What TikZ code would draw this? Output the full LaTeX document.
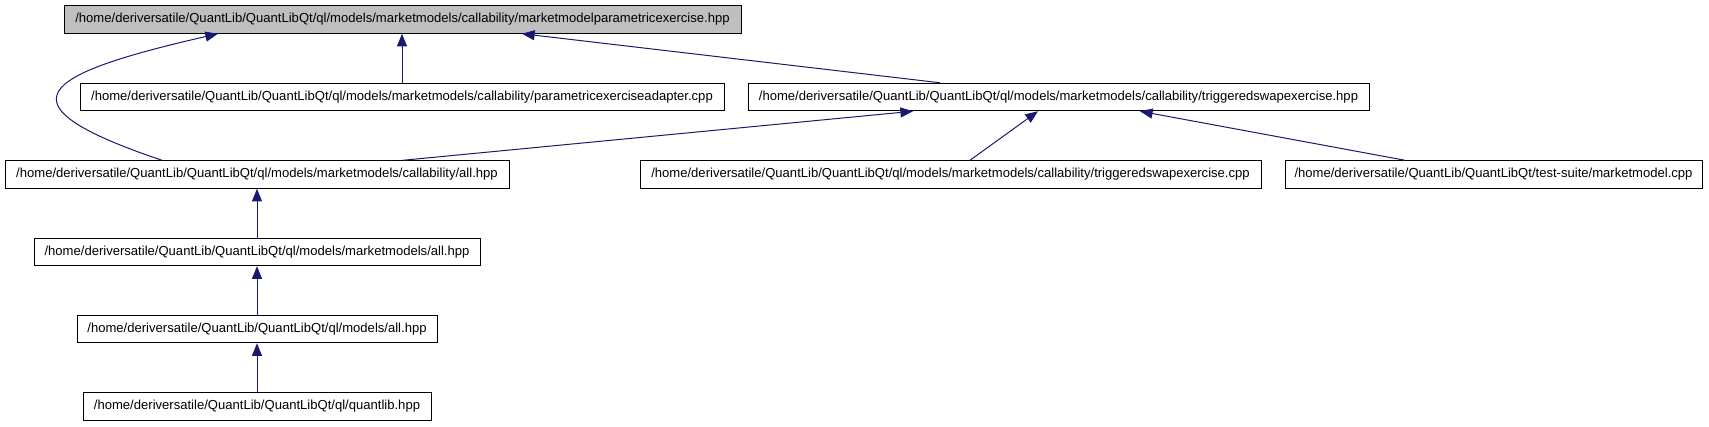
\documentclass[tikz,border=0pt]{standalone}
\usepackage{fontspec}
\setmainfont{Liberation Sans}
\usetikzlibrary{arrows.meta}
\definecolor{edgeblue}{RGB}{25,25,112}
\definecolor{focusgray}{RGB}{191,191,191}
\tikzset{
  filebox/.style={rectangle, draw=black, line width=0.75pt, fill=white, inner sep=0pt,
                  minimum height=20.6pt, align=center, font=\fontsize{9.8}{11}\selectfont},
  filefocus/.style={filebox, fill=focusgray},
  dep/.style={-{Triangle[length=9.5pt, width=7.5pt]}, line width=0.75pt, edgeblue},
}
\begin{document}
\begin{tikzpicture}[x=0.75pt, y=-0.75pt]
\useasboundingbox (0,0) rectangle (1709,427);
\node[filefocus, minimum width=507.75pt] (top) at (402.5,19.5)
  {/home/deriversatile/QuantLib/QuantLibQt/ql/models/marketmodels/callability/marketmodelparametricexercise.hpp};
\node[filebox, minimum width=483pt] (adapter) at (402,97)
  {/home/deriversatile/QuantLib/QuantLibQt/ql/models/marketmodels/callability/parametricexerciseadapter.cpp};
\node[filebox, minimum width=465.75pt] (trighpp) at (1058.5,97)
  {/home/deriversatile/QuantLib/QuantLibQt/ql/models/marketmodels/callability/triggeredswapexercise.hpp};
\node[filebox, minimum width=378pt] (callall) at (257,174.5)
  {/home/deriversatile/QuantLib/QuantLibQt/ql/models/marketmodels/callability/all.hpp};
\node[filebox, minimum width=465.75pt] (trigcpp) at (950.5,174.5)
  {/home/deriversatile/QuantLib/QuantLibQt/ql/models/marketmodels/callability/triggeredswapexercise.cpp};
\node[filebox, minimum width=312.75pt] (mmcpp) at (1493.5,174.5)
  {/home/deriversatile/QuantLib/QuantLibQt/test-suite/marketmodel.cpp};
\node[filebox, minimum width=334.5pt] (mmall) at (257,252)
  {/home/deriversatile/QuantLib/QuantLibQt/ql/models/marketmodels/all.hpp};
\node[filebox, minimum width=270pt] (modall) at (257,329)
  {/home/deriversatile/QuantLib/QuantLibQt/ql/models/all.hpp};
\node[filebox, minimum width=261pt] (qlib) at (257,406.5)
  {/home/deriversatile/QuantLib/QuantLibQt/ql/quantlib.hpp};
% includes point up to the file they include
\draw[dep] (adapter.north) -- (adapter.north |- top.south);
\draw[dep] ([xshift=-88.9pt]trighpp.north) -- ([xshift=89.6pt]top.south);
\draw[dep] ([xshift=-71.25pt]callall.north) .. controls (-8.5,103) and (42.7,73.9) .. ([xshift=-138.4pt]top.south);
\draw[dep] ([xshift=109.5pt]callall.north) -- ([xshift=-109.1pt]trighpp.south);
\draw[dep] ([xshift=14.6pt]trigcpp.north) -- ([xshift=-15.4pt]trighpp.south);
\draw[dep] ([xshift=-66.4pt]mmcpp.north) -- ([xshift=61.1pt]trighpp.south);
\foreach \a/\b in {mmall/callall, modall/mmall, qlib/modall}
  \draw[dep] (\a) -- (\b);
\end{tikzpicture}
\end{document}
